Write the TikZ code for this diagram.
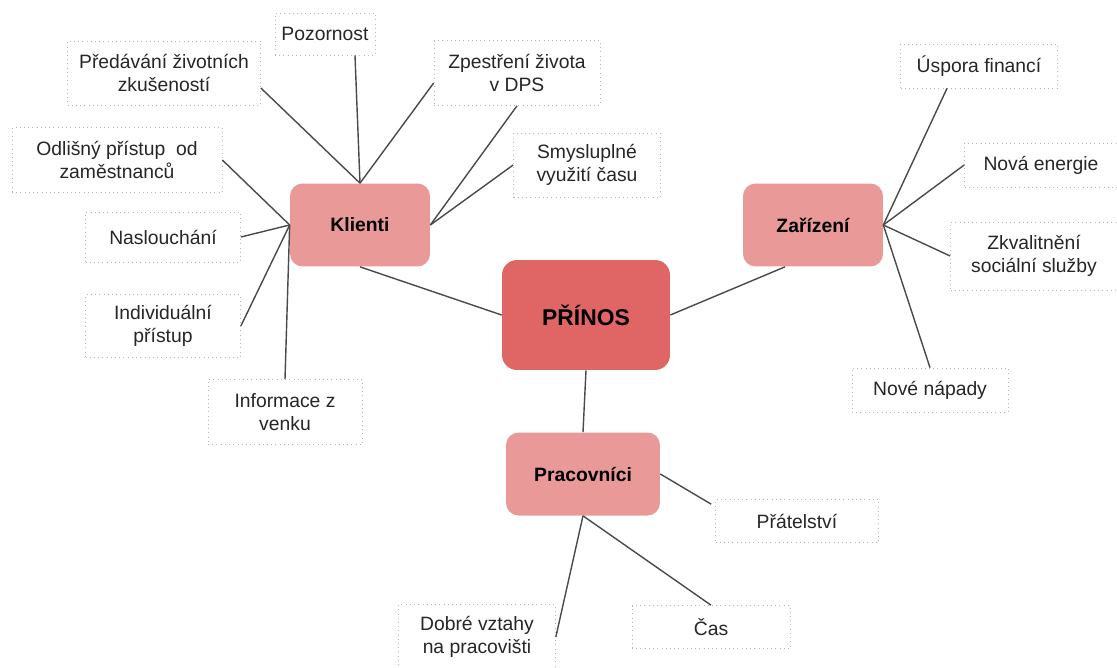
\documentclass[tikz,border=0pt]{standalone}
\usepackage{fontspec}
\setmainfont{Liberation Sans}
\definecolor{hauptrot}{HTML}{E06666}
\definecolor{nebenrot}{HTML}{EA9999}
\definecolor{strich}{HTML}{4A4A4A}
\definecolor{rahmen}{HTML}{BDB4B4}
\begin{document}
\begin{tikzpicture}[x=0.02cm, y=-0.02cm,
	zentrum/.style={fill=hauptrot, rounded corners=0.3cm, minimum width=3.36cm, minimum height=2.2cm, font=\fontsize{13}{15}\selectfont\bfseries},
	bereich/.style={fill=nebenrot, rounded corners=0.25cm, minimum width=2.8cm, minimum height=1.66cm, font=\fontsize{11}{13}\selectfont\bfseries},
	blatt/.style={draw=rahmen, dotted, align=center, inner sep=0pt, text=black!85, font=\fontsize{11}{13.5}\selectfont},
	verbindung/.style={draw=strich, line width=0.8pt}]
	\useasboundingbox (0,0) rectangle (1117,667);
	% Mitte und Bereiche
	\node[zentrum] (prinos) at (586,315) {PŘÍNOS};
	\node[bereich] (klienti) at (360,225) {Klienti};
	\node[bereich] (zarizeni) at (813,225) {Zařízení};
	\node[bereich, minimum width=3.08cm] (pracovnici) at (583,474) {Pracovníci};
	% Klienti
	\node[blatt, minimum width=2cm, minimum height=0.84cm] (pozornost) at (325,34) {Pozornost};
	\node[blatt, minimum width=3.86cm, minimum height=1.28cm] (predavani) at (164,73) {Předávání životních\\zkušeností};
	\node[blatt, minimum width=3.32cm, minimum height=1.3cm] (zpestreni) at (517,73) {Zpestření života\\v DPS};
	\node[blatt, minimum width=4.2cm, minimum height=1.3cm] (odlisny) at (117,160) {Odlišný přístup~ od\\zaměstnanců};
	\node[blatt, minimum width=2.94cm, minimum height=1.28cm] (smysluplne) at (587,165) {Smysluplné\\využití času};
	\node[blatt, minimum width=3.1cm, minimum height=1cm] (naslouchani) at (163,237) {Naslouchání};
	\node[blatt, minimum width=3.1cm, minimum height=1.26cm] (individualni) at (163,326) {Individuální\\přístup};
	\node[blatt, minimum width=3.08cm, minimum height=1.3cm] (informace) at (285,412) {Informace z\\venku};
	% Zarizeni
	\node[blatt, minimum width=3.14cm, minimum height=0.88cm] (uspora) at (979,66) {Úspora financí};
	\node[blatt, minimum width=3.06cm, minimum height=0.88cm] (energie) at (1041,165) {Nová energie};
	\node[blatt, minimum width=3.34cm, minimum height=1.36cm] (zkvalitneni) at (1034,256) {Zkvalitnění\\sociální služby};
	\node[blatt, minimum width=3.12cm, minimum height=0.88cm] (napady) at (930,390) {Nové nápady};
	% Pracovnici
	\node[blatt, minimum width=3.26cm, minimum height=0.86cm] (pratelstvi) at (797,521) {Přátelství};
	\node[blatt, minimum width=3.16cm, minimum height=0.86cm] (cas) at (711,627) {Čas};
	\node[blatt, minimum width=3.14cm, minimum height=1.3cm] (vztahy) at (477,637) {Dobré vztahy\\na pracovišti};
	% Linien
	\draw[verbindung] (klienti.south) -- (prinos.west);
	\draw[verbindung] (prinos.east) -- ([xshift=-0.56cm]zarizeni.south);
	\draw[verbindung] (prinos.south) -- (pracovnici.north);
	\draw[verbindung] (klienti.north) -- ([yshift=-0.3cm]predavani.east);
	\draw[verbindung] (klienti.north) -- ([xshift=0.6cm]pozornost.south);
	\draw[verbindung] (klienti.north) -- ([yshift=-0.2cm]zpestreni.west);
	\draw[verbindung] (klienti.east) -- (zpestreni.south);
	\draw[verbindung] (klienti.east) -- (smysluplne.west);
	\draw[verbindung] (klienti.west) -- (odlisny.east);
	\draw[verbindung] (klienti.west) -- (naslouchani.east);
	\draw[verbindung] (klienti.west) -- (individualni.east);
	\draw[verbindung] (klienti.west) -- (informace.north);
	\draw[verbindung] (zarizeni.east) -- ([xshift=-0.64cm]uspora.south);
	\draw[verbindung] (zarizeni.east) -- (energie.west);
	\draw[verbindung] (zarizeni.east) -- (zkvalitneni.west);
	\draw[verbindung] (zarizeni.east) -- (napady.north);
	\draw[verbindung] (pracovnici.east) -- ([xshift=-0.08cm,yshift=-0.1cm]pratelstvi.north west);
	\draw[verbindung] (pracovnici.south) -- (cas.north);
	\draw[verbindung] (pracovnici.south) -- (vztahy.east);
\end{tikzpicture}
\end{document}
